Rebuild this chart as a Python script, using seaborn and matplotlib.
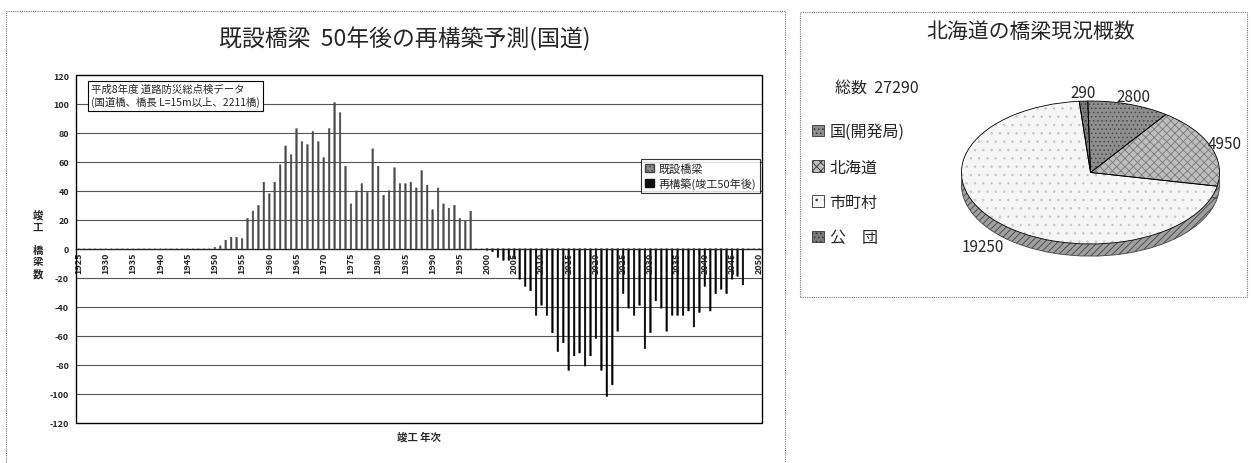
import numpy as np
import pandas as pd
import matplotlib
matplotlib.use("Agg")
import matplotlib.pyplot as plt
import seaborn as sns
from matplotlib.patches import Rectangle, Patch

# ---------------- data ----------------
existing_years = list(range(1925, 2000))
existing_values = [0, 0, 0, 0, 0, 0, 0, 0, 0, 0, 0, 0, 0, 0, 0, 0, 0, 0, 0, 0, 0, 0, 0, 0, 0,
                   1, 2, 6, 8, 8, 7, 21, 26, 30, 46, 38, 46, 58, 71, 65, 83, 74, 72, 81, 74,
                   63, 83, 101, 94, 57, 31, 40, 45, 39, 69, 57, 37, 40, 56, 45, 45, 46, 42, 54, 44,
                   27, 42, 31, 28, 30, 21, 19, 26, 0, 0]
rebuild_years = list(range(2000, 2051))
rebuild_values = [-1, -2, -6, -8, -8, -7, -21, -26, -29, -46, -39, -46, -58, -71, -65,
                  -84, -74, -72, -81, -74, -62, -84, -102, -94, -57, -31, -41, -46, -39, -69,
                  -58, -36, -41, -57, -46, -46, -46, -43, -54, -44, -26, -43, -31, -28, -31,
                  -21, -19, -25, 0, 0, 0]
series_names = ["既設橋梁", "再構築(竣工50年後)"]
year_tick_labels = list(range(1925, 2051, 5))
y_ticks = list(range(-120, 121, 20))

pie_labels = ["国(開発局)", "北海道", "市町村", "公　団"]
pie_values = [2800, 4950, 19250, 290]
pie_total = 27290

# ---------------- style ----------------
sns.set_style("white")
plt.rcParams["font.family"] = ["Noto Sans CJK JP", "DejaVu Sans"]
plt.rcParams["hatch.linewidth"] = 0.6

W, H = 1251, 464
fig = plt.figure(figsize=(W / 100, H / 100), dpi=100)

# panel frames (dotted)
fig.add_artist(Rectangle((6 / W, 1 - 470 / H), 779 / W, 458 / H, transform=fig.transFigure,
                         fill=False, ls=(0, (1, 1)), lw=0.8, ec="#777777", clip_on=False))
fig.add_artist(Rectangle((800 / W, 1 - 298 / H), 447 / W, 285 / H, transform=fig.transFigure,
                         fill=False, ls=(0, (1, 1)), lw=0.8, ec="#777777"))

# ---------------- left: bar chart ----------------
df = pd.DataFrame({
    "year": existing_years + rebuild_years,
    "value": existing_values + rebuild_values,
    "series": [series_names[0]] * len(existing_years) + [series_names[1]] * len(rebuild_years),
})
ax = fig.add_axes([76 / W, 1 - 423.5 / H, 686 / W, 347.5 / H])
bar_cols = {series_names[0]: "#4a4a4a", series_names[1]: "#000000"}
sns.barplot(data=df, x="year", y="value", hue="series", dodge=False,
            palette=bar_cols, width=0.3, errorbar=None, legend=False, saturation=1, ax=ax)
for p in ax.patches:
    p.set_edgecolor(p.get_facecolor())
    p.set_linewidth(0.3)
    p.set_snap(False)
    p.set_zorder(1.5)
ax.set_xlim(-0.5, 125.5)
ax.set_ylim(-120, 120)
ax.set_xlabel("")
ax.set_ylabel("")

# spines first (set_position resets ticks)
ax.spines["bottom"].set_position(("data", 0))
ax.spines["bottom"].set_linewidth(1.0)
for s in ["top", "left", "right"]:
    ax.spines[s].set_visible(False)
ax.add_patch(Rectangle((0, 0), 1, 1, transform=ax.transAxes, fill=False, lw=1.0,
                       ec="black", clip_on=False, zorder=3))

ax.set_yticks(y_ticks)
ax.set_yticklabels([str(v) for v in y_ticks], fontsize=6.5, fontweight="bold")
ax.yaxis.grid(False)
for v in y_ticks:
    if v not in (0, y_ticks[0], y_ticks[-1]):
        ax.axhline(v, color="#555555", lw=0.8, zorder=0.5)
ax.set_axisbelow(False)

all_years = sorted(set(existing_years + rebuild_years))
pos = [all_years.index(y) for y in year_tick_labels]
ax.set_xticks(pos)
ax.set_xticklabels([str(y) for y in year_tick_labels], rotation=90, fontsize=6.5,
                   fontweight="bold")
ax.set_xticks(np.arange(-0.5, 126, 1), minor=True)
ax.tick_params(axis="x", which="major", length=0, pad=2)
ax.tick_params(axis="x", which="minor", direction="in", length=3, width=0.6)
ax.tick_params(axis="y", length=3, width=0.6, pad=2)

ax.text(0.022, 0.975, "平成8年度 道路防災総点検データ\n(国道橋、橋長 L=15m以上、2211橋)",
        transform=ax.transAxes, va="top", ha="left", fontsize=7.5, linespacing=1.25,
        bbox=dict(boxstyle="square,pad=0.3", fc="white", ec="black", lw=0.8), zorder=5)

leg = ax.legend(handles=[Patch(fc="#8a8a8a", ec="#444444", hatch="...."),
                         Patch(fc="#111111", ec="#111111")],
                labels=series_names, loc="upper right", bbox_to_anchor=(0.997, 0.758),
                fontsize=8, frameon=True, fancybox=False, edgecolor="black",
                handlelength=0.8, handleheight=0.8, handletextpad=0.4,
                borderpad=0.35, labelspacing=0.3, borderaxespad=0)
leg.get_frame().set_linewidth(0.8)

fig.text(405 / W, 1 - 39 / H, "既設橋梁  50年後の再構築予測(国道)", ha="center", va="center",
         fontsize=16.5)
fig.text(419 / W, 1 - 437 / H, "竣工 年次", ha="center", va="center", fontsize=7.5,
         fontweight="bold")
fig.text(38 / W, 1 - 245 / H, "竣\n工\n\n橋\n梁\n数", ha="center", va="center", fontsize=7.5,
         fontweight="bold", linespacing=1.2)

# ---------------- right: pie chart ----------------
pax = fig.add_axes([955 / W, 1 - 265 / H, 271 / W, 170 / H])
pie_colors = ["#8e8e8e", "#bdbdbd", "#f6f6f6", "#7a7a7a"]
pie_hatches = ["....", "xxxx", "..", "...."]
pie_hatch_col = ["#4a4a4a", "#7a7a7a", "#c8c8c8", "#3c3c3c"]

# side (3D thickness)
sw, _ = pax.pie(pie_values, startangle=91.2, counterclock=False, center=(0, -0.17),
                colors=["#a0a0a0"] * 4, wedgeprops=dict(lw=0.6, ec="#444444"))
for w in sw:
    w.set_hatch("/////")
# top face
tw, _ = pax.pie(pie_values, startangle=91.2, counterclock=False, colors=pie_colors,
                wedgeprops=dict(lw=0))
for w, h, c in zip(tw, pie_hatches, pie_hatch_col):
    w.set_hatch(h)
    w.set_edgecolor(c)
# outline + labels
ow, texts = pax.pie(pie_values, labels=[str(v) for v in pie_values], labeldistance=1.12,
                    startangle=91.2, counterclock=False,
                    wedgeprops=dict(fill=False, ec="black", lw=0.6),
                    textprops=dict(fontsize=11))
for t in texts:
    t.set_ha("center")
    t.set_va("center")
x, y = texts[2].get_position()
texts[2].set_position((x, y - 0.28))
pax.set_aspect("auto")
pax.set_xlim(-1.05, 1.05)
pax.set_ylim(-1.28, 1.098)

handles = [Patch(fc=c, ec="#333333", hatch=h, lw=0.6)
           for c, h in zip(pie_colors, pie_hatches)]
lg2 = pax.legend(handles=handles, labels=pie_labels, loc="upper left",
                 bbox_to_anchor=(812 / W, 1 - 124 / H), bbox_transform=fig.transFigure,
                 frameon=False, fontsize=11.5, handlelength=0.75, handleheight=0.75,
                 handletextpad=0.35, labelspacing=1.15, borderaxespad=0, borderpad=0)

fig.text(1031 / W, 1 - 32 / H, "北海道の橋梁現況概数", ha="center", va="center", fontsize=15)
fig.text(835 / W, 1 - 88 / H, "総数  " + str(pie_total), ha="left", va="center", fontsize=11.5)

fig.savefig("out.png", dpi=100)
